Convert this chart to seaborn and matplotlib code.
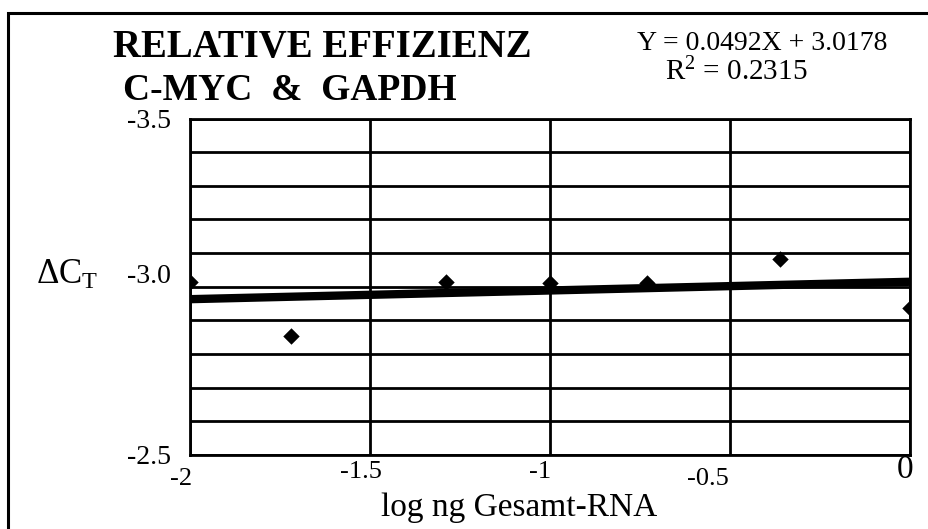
import numpy as np
import pandas as pd
import matplotlib
matplotlib.use("Agg")
import matplotlib.pyplot as plt
import matplotlib.transforms as mtransforms
from matplotlib.patches import Rectangle
import seaborn as sns

# data
log_ng = [-2.0, -1.72, -1.29, -1.0, -0.73, -0.36, 0.0]
delta_ct = [-3.013, -2.853, -3.013, -3.012, -3.010, -3.083, -2.936]

x_ticks = [-2.0, -1.5, -1.0, -0.5, 0.0]
x_tick_labels = ["-2", "-1.5", "-1", "-0.5", "0"]
y_ticks = [-3.5, -3.4, -3.3, -3.2, -3.1, -3.0, -2.9, -2.8, -2.7, -2.6, -2.5]
y_tick_labels = ["-3.5", "", "", "", "", "-3.0", "", "", "", "", "-2.5"]

title_lines = ["RELATIVE EFFIZIENZ", "C-MYC  &  GAPDH"]
equation_text = "Y = 0.0492X + 3.0178"
r2_text = "R$^2$ = 0.2315"

df = pd.DataFrame({"log_ng": log_ng, "delta_ct": delta_ct})

sns.set_style("white")
plt.rcParams["font.family"] = ["Liberation Serif", "DejaVu Serif"]
plt.rcParams["mathtext.fontset"] = "custom"
plt.rcParams["mathtext.rm"] = "Liberation Serif"
plt.rcParams["mathtext.it"] = "Liberation Serif"
for key in ["text.color", "axes.labelcolor", "xtick.color", "ytick.color"]:
    plt.rcParams[key] = "black"

W, H = 929, 529
fig = plt.figure(figsize=(W / 100, H / 100), dpi=100)
ax = fig.add_axes([190 / W, 1 - 455 / H, 720 / W, (455 - 118.5) / H])

sns.regplot(
    data=df, x="log_ng", y="delta_ct", ax=ax, ci=None, marker="D", color="black",
    scatter_kws={"s": 70, "alpha": 1, "zorder": 4, "linewidths": 0},
    line_kws={"lw": 6, "zorder": 3, "solid_capstyle": "butt"},
)

ax.set_xlim(-2, 0)
ax.set_ylim(-2.5, -3.5)
ax.set_xticks(x_ticks)
ax.set_xticklabels(x_tick_labels, fontsize=19)
ax.set_yticks(y_ticks)
ax.set_yticklabels(y_tick_labels, fontsize=20)
ax.tick_params(axis="both", length=0)
ax.tick_params(axis="y", pad=14)
ax.tick_params(axis="x", pad=0)
ax.grid(True, color="black", lw=2)
ax.set_axisbelow(True)
for sp in ax.spines.values():
    sp.set_visible(True)
    sp.set_color("black")
    sp.set_linewidth(2)

# staggered x tick labels like the original (offsets in pixels)
x_offsets = [(-9, -13), (-9, -6), (-10, -6), (-22, -13), (-5, 1)]
for lab, (dx, dy) in zip(ax.get_xticklabels(), x_offsets):
    lab.set_transform(lab.get_transform() + mtransforms.ScaledTranslation(dx / 100, dy / 100, fig.dpi_scale_trans))
ax.get_xticklabels()[-1].set_fontsize(24)
for lab in ax.get_yticklabels():
    if lab.get_text() == "-3.0":
        lab.set_transform(lab.get_transform() + mtransforms.ScaledTranslation(0, 13 / 100, fig.dpi_scale_trans))

ax.set_xlabel("log ng Gesamt-RNA", fontsize=24)
ax.xaxis.set_label_coords((519 - 190) / 720, (455 - 508) / 336.5)
ax.xaxis.label.set_va("center")
ax.set_ylabel(r"$\Delta$C$_\mathrm{T}$", fontsize=25, rotation=0, va="center", ha="center")
ax.yaxis.set_label_coords((67 - 190) / 720, (455 - 275) / 336.5)

fig.text(113 / W, 1 - 57 / H, title_lines[0], fontsize=28, fontweight="bold", ha="left", va="baseline")
fig.text(123 / W, 1 - 100 / H, title_lines[1], fontsize=27, fontweight="bold", ha="left", va="baseline")
fig.text(762 / W, 1 - 50 / H, equation_text, fontsize=20, ha="center", va="baseline")
fig.text(736 / W, 1 - 80 / H, r2_text, fontsize=21, ha="center", va="baseline")

fig.patches.append(Rectangle((8 / W, -0.1), 1.2, 1.1 - 13 / H, transform=fig.transFigure,
                             fill=False, edgecolor="black", lw=2.2))

fig.savefig("out.png", dpi=100)
